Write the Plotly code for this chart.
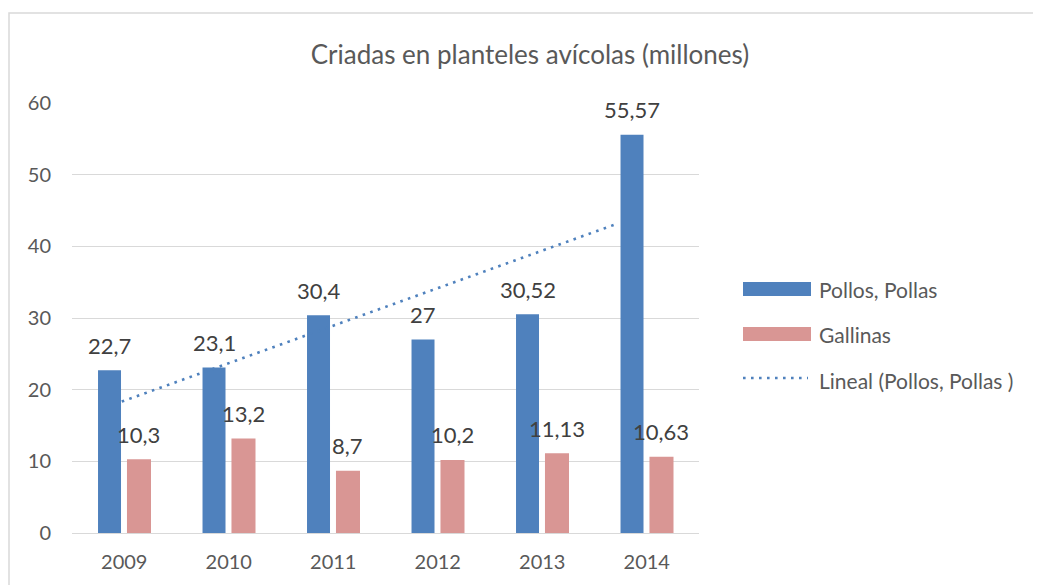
import numpy as np
import plotly.graph_objects as go

years = ["2009", "2010", "2011", "2012", "2013", "2014"]
pollos = [22.7, 23.1, 30.4, 27, 30.52, 55.57]
gallinas = [10.3, 13.2, 8.7, 10.2, 11.13, 10.63]
series_names = ["Pollos, Pollas", "Gallinas", "Lineal (Pollos, Pollas )"]
title_text = "Criadas en planteles avícolas (millones)"

BLUE = "#4F81BD"
PINK = "#D99694"
TXT = "#595959"
LBL = "#404040"
GRID = "#D9D9D9"
FONT = "Lato"

xpos = np.arange(1, len(years) + 1)
B_OFF, B_W = -0.251, 0.22
P_OFF, P_W = 0.026, 0.23

# linear trend of Pollos (least squares), drawn like the spreadsheet does
slope, intercept = np.polyfit(xpos, pollos, 1)
trend_x = np.array([0.976, 5.71])
trend_y = slope * trend_x + intercept

def fmt(v):
    return f"{v:g}".replace(".", ",")

# page body offset compensation (screen px -> figure px)
OFF = 8
W, H = 1041, 585
# screen positions of the plot area
SL, SR, ST, SB = 72, 699, 103, 533
L, T = SL - OFF, ST - OFF
pw, ph = SR - SL, SB - ST
R = W - L - pw
Bm = H - T - ph

def px_x(p):  # screen px -> paper
    return (p - SL) / pw

def px_y(p):
    return (SB - p) / ph

fig = go.Figure()
fig.add_trace(go.Bar(x=xpos, y=pollos, name=series_names[0], marker_color=BLUE,
                     offset=B_OFF, width=B_W, showlegend=False,
                     marker_line_width=0))
fig.add_trace(go.Bar(x=xpos, y=gallinas, name=series_names[1], marker_color=PINK,
                     offset=P_OFF, width=P_W, showlegend=False,
                     marker_line_width=0))
fig.add_trace(go.Scatter(x=trend_x, y=trend_y, mode="lines", name=series_names[2],
                         line=dict(color=BLUE, width=2.6, dash="2.6px,5.4px"),
                         showlegend=False))

annotations = []
for i, x in enumerate(xpos):
    annotations.append(dict(x=x + B_OFF + B_W / 2, y=pollos[i], text=fmt(pollos[i]),
                            xref="x", yref="y", showarrow=False, yshift=25,
                            font=dict(family=FONT, size=22, color=LBL)))
    annotations.append(dict(x=x + P_OFF + P_W / 2, y=gallinas[i], text=fmt(gallinas[i]),
                            xref="x", yref="y", showarrow=False, yshift=25,
                            font=dict(family=FONT, size=22, color=LBL)))

shapes = [
    dict(type="rect", xref="paper", yref="paper", x0=px_x(9), x1=px_x(1050),
         y0=px_y(600), y1=px_y(13), line=dict(color=GRID, width=1.5), layer="below"),
    dict(type="rect", xref="paper", yref="paper", x0=px_x(743), x1=px_x(811),
         y0=px_y(296), y1=px_y(282), line_width=0, fillcolor=BLUE),
    dict(type="rect", xref="paper", yref="paper", x0=px_x(743), x1=px_x(811),
         y0=px_y(341), y1=px_y(327), line_width=0, fillcolor=PINK),
    dict(type="line", xref="paper", yref="paper", x0=px_x(743), x1=px_x(808),
         y0=px_y(378), y1=px_y(378), line=dict(color=BLUE, width=2.6, dash="2.6px,5.4px")),
]
for name, yc in zip(series_names, [289, 334, 380]):
    annotations.append(dict(x=px_x(817), y=px_y(yc), xref="paper", yref="paper",
                            text=name, showarrow=False, xanchor="left", yanchor="middle",
                            font=dict(family=FONT, size=21, color=TXT)))

fig.update_layout(
    width=W, height=H,
    margin=dict(l=L, r=R, t=T, b=Bm),
    paper_bgcolor="white", plot_bgcolor="white",
    barmode="overlay",
    title=dict(text=title_text, x=(530 - OFF) / W, xanchor="center", y=1 - (55 - OFF) / H,
               yanchor="middle", xref="container",
               font=dict(family=FONT, size=26, color=TXT)),
    xaxis=dict(range=[0.5, len(years) + 0.5], tickvals=xpos, ticktext=years,
               showgrid=False, zeroline=False, showline=True, linecolor=GRID,
               linewidth=1.3, ticks="", ticklabelstandoff=11,
               tickfont=dict(family=FONT, size=20, color=TXT), fixedrange=True),
    yaxis=dict(range=[0, 60], dtick=10, showgrid=True, gridcolor=GRID, gridwidth=1.3,
               zeroline=False, showline=False, ticks="", ticklabelstandoff=20,
               tickfont=dict(family=FONT, size=20, color=TXT), fixedrange=True),
    annotations=annotations,
    shapes=shapes,
    showlegend=False,
)

fig.write_html("out.html")
